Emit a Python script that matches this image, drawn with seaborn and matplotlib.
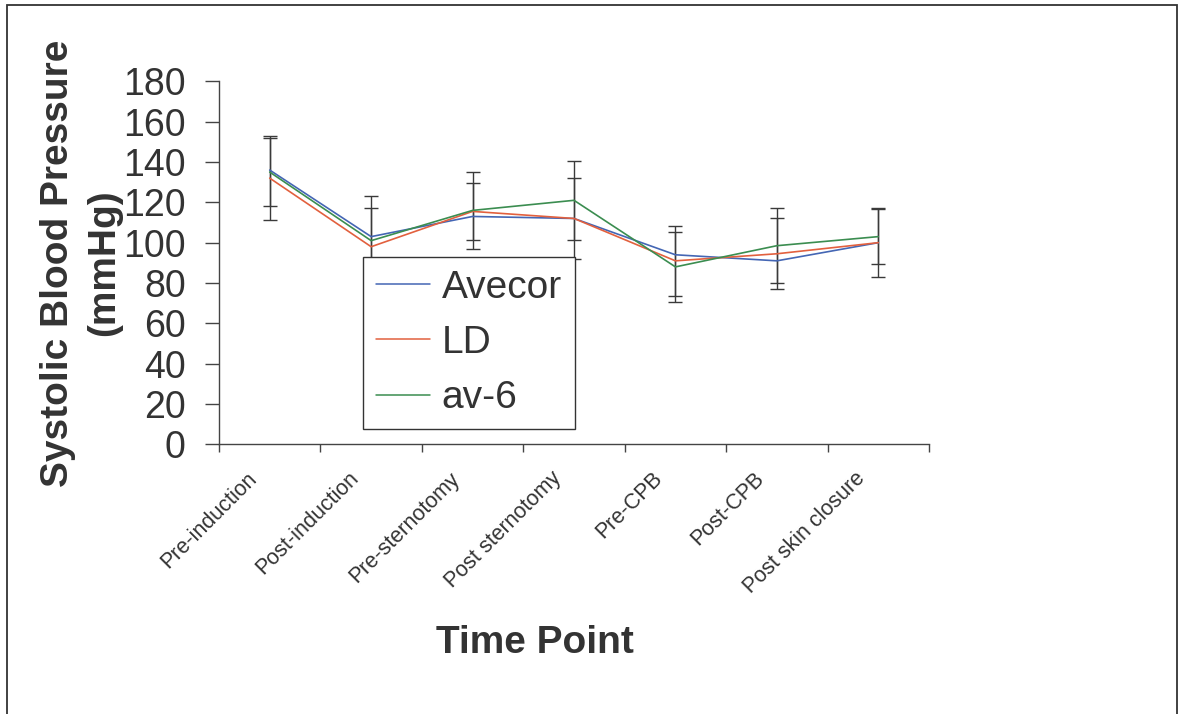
import numpy as np
import pandas as pd
import matplotlib
matplotlib.use("Agg")
import matplotlib.pyplot as plt
from matplotlib.patches import Rectangle
import seaborn as sns

# ---- data ----
categories = ["Pre-induction", "Post-induction", "Pre-sternotomy", "Post sternotomy",
              "Pre-CPB", "Post-CPB", "Post skin closure"]
series_names = ["Avecor", "LD", "av-6"]
avecor = [136, 103, 113, 112, 94, 91, 100]
ld = [132, 98, 115.5, 112, 91, 94.5, 100]
av6 = [135, 101, 116, 121, 88, 98.5, 103]
ld_err = [21, 19, 14, 20, 17.5, 17.7, 17]
av6_err = [17, 22, 19, 19.5, 17.5, 18.5, 13.5]
yticks = [0, 20, 40, 60, 80, 100, 120, 140, 160, 180]

colors = {"Avecor": "#4466b4", "LD": "#e2603e", "av-6": "#3b8d50"}
txt = "#333333"

sns.set_theme(style="white")
plt.rcParams["font.family"] = ["Liberation Sans", "DejaVu Sans"]

df = pd.DataFrame({
    "Time Point": categories * 3,
    "SBP": avecor + ld + av6,
    "Group": [s for s in series_names for _ in categories],
})

W, H = 1184, 714
fig = plt.figure(figsize=(W / 100, H / 100), dpi=100)
ax_l, ax_r, ax_b, ax_t = 219, 929, 444.4, 81.3
ax = fig.add_axes([ax_l / W, 1 - ax_b / H, (ax_r - ax_l) / W, (ax_b - ax_t) / H])

sns.lineplot(data=df, x="Time Point", y="SBP", hue="Group", hue_order=series_names,
             palette=colors, sort=False, linewidth=1.2, ax=ax, legend=False, zorder=3)

xpos = np.arange(len(categories))
for vals, errs in [(ld, ld_err), (av6, av6_err)]:
    ax.errorbar(xpos, vals, yerr=errs, fmt="none", ecolor="#3a3a3a", elinewidth=1.0,
                capsize=5, capthick=1.0, zorder=2)

ax.set_xlim(-0.5, len(categories) - 0.5)
ax.set_ylim(0, 180)
ax.set_yticks(yticks)
ax.set_yticklabels([str(v) for v in yticks])
ax.tick_params(axis="y", direction="out", length=10, width=1, color="#444444",
               labelsize=27, labelcolor=txt, pad=14, left=True)

ax.set_xticks(np.arange(-0.5, len(categories)), minor=False)
ax.set_xticklabels([""] * (len(categories) + 1))
# label anchors slightly left of the category centre (zero-length minor ticks)
ax.set_xticks(xpos - 0.23, minor=True)
ax.set_xticklabels(categories, minor=True, rotation=45, ha="right", va="top",
                   rotation_mode="anchor", fontsize=15.5, color=txt)
ax.tick_params(axis="x", which="major", direction="out", length=6, width=1,
               color="#444444", bottom=True)
ax.tick_params(axis="x", which="minor", length=0, pad=17)

for s in ["top", "right"]:
    ax.spines[s].set_visible(False)
for s in ["left", "bottom"]:
    ax.spines[s].set_color("#444444")
    ax.spines[s].set_linewidth(1.0)
ax.grid(False)

ax.set_xlabel("Time Point", fontsize=28, fontweight="bold", color=txt, labelpad=0)
ax.xaxis.set_label_coords((535 - ax_l) / (ax_r - ax_l), -(643 - ax_b) / (ax_b - ax_t))
ax.xaxis.label.set_va("center")

ax.set_ylabel("Systolic Blood Pressure\n(mmHg)", fontsize=28, fontweight="bold",
              color=txt, linespacing=1.35)
ax.yaxis.label.set_rotation_mode("default")
ax.yaxis.label.set_ha("center")
ax.yaxis.label.set_va("center")
ax.yaxis.set_label_coords((81 - ax_l) / (ax_r - ax_l), 0.5)

handles = [plt.Line2D([], [], color=colors[n], lw=1.1) for n in series_names]
leg = fig.legend(handles, series_names, loc="upper left",
                 bbox_to_anchor=(362.7 / W, 1 - 256.7 / H), bbox_transform=fig.transFigure,
                 borderaxespad=0, fontsize=28, frameon=True, fancybox=False,
                 handlelength=1.4, handletextpad=0.3, labelspacing=0.5, borderpad=0.33)
leg.get_frame().set_edgecolor("#333333")
leg.get_frame().set_linewidth(1.0)
leg.get_frame().set_facecolor("white")
leg.get_frame().set_alpha(1)
for t in leg.get_texts():
    t.set_color(txt)
leg.set_zorder(10)

fig.add_artist(Rectangle((7 / W, -0.02), (1177 - 7) / W, 1.02 - 5 / H,
                         transform=fig.transFigure, fill=False, edgecolor="#333333",
                         linewidth=1.3))

fig.savefig("out.png", dpi=100, facecolor="white")
